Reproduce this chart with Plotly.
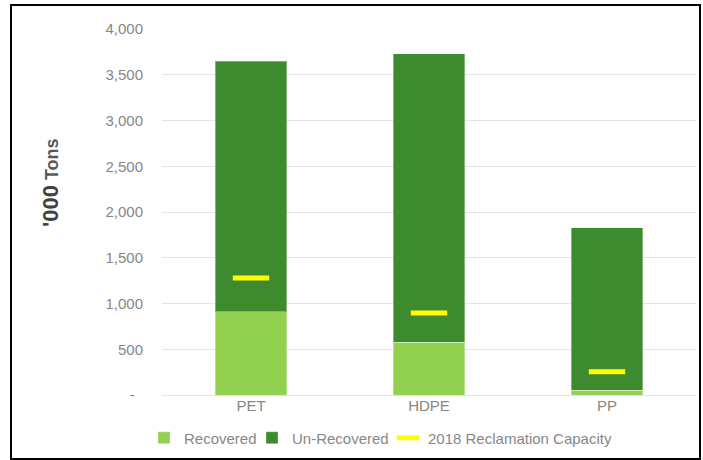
import plotly.graph_objects as go

categories = ["PET", "HDPE", "PP"]
recovered = [910, 575, 50]
un_recovered = [2740, 3155, 1780]
capacity_2018 = [1280, 895, 255]
tick_vals = [0, 500, 1000, 1500, 2000, 2500, 3000, 3500, 4000]
tick_text = ["-\u00a0\u00a0", "500", "1,000", "1,500", "2,000", "2,500", "3,000", "3,500", "4,000"]

FONT = "Liberation Sans, Arial, sans-serif"
GRAY = "#878787"

fig = go.Figure()
fig.add_trace(go.Bar(
    x=categories, y=recovered, name="Recovered", legendwidth=63,
    marker=dict(color="#92D050", line=dict(width=1, color="rgba(255,255,255,0.35)")),
))
fig.add_trace(go.Bar(
    x=categories, y=un_recovered, name="Un-Recovered", legendwidth=91,
    marker=dict(color="#3D8A2F", line=dict(width=1, color="rgba(255,255,255,0.35)")),
))
fig.add_trace(go.Scatter(
    x=categories, y=capacity_2018, name="2018 Reclamation Capacity",
    mode="markers",
    marker=dict(symbol="line-ew", size=26, line=dict(width=5, color="#FFFF00"), color="#FFFF00"),
))

W, H = 703, 460
L, R, T, B = 162, 7, 29, 65
pw, ph = W - L - R, H - T - B

def px(x):
    return (x - L) / pw

def py(y):
    return (H - B - y) / ph

fig.update_layout(
    width=W, height=H,
    margin=dict(l=L, r=R, t=T, b=B, autoexpand=False),
    barmode="stack", bargap=0.6,
    paper_bgcolor="white", plot_bgcolor="white",
    font=dict(family=FONT, size=15, color=GRAY),
    showlegend=True,
    legend=dict(orientation="h", x=px(144), xanchor="left", y=py(438), yanchor="middle",
                font=dict(size=15, color=GRAY), traceorder="normal",
                itemwidth=30, bgcolor="rgba(0,0,0,0)"),
    xaxis=dict(showgrid=False, showline=False, ticks="", tickfont=dict(size=15, color=GRAY)),
    yaxis=dict(range=[0, 4000], tickvals=tick_vals, ticktext=tick_text,
               showgrid=True, gridcolor="#E3E3E3", gridwidth=1,
               zeroline=True, zerolinecolor="#E3E3E3", zerolinewidth=1,
               showline=False, ticks="", ticklabelstandoff=18,
               tickfont=dict(size=15, color=GRAY)),
    shapes=[dict(type="rect", xref="paper", yref="paper",
                 x0=px(11), x1=px(700), y0=py(459), y1=py(5),
                 line=dict(color="black", width=2), fillcolor="rgba(0,0,0,0)", layer="above")],
    annotations=[dict(
        text="<b><span style='font-size:22px;color:#404040'>'000</span></b> <b>Tons</b>",
        xref="paper", yref="paper", x=px(50), y=py(183), textangle=-90,
        showarrow=False, xanchor="center", yanchor="middle",
        font=dict(family=FONT, size=18, color="#595959"),
    )],
)

fig.write_html(
    "out.html",
    config={"displayModeBar": False},
    post_script="document.body.style.margin='0';document.body.style.overflow='hidden';",
)
